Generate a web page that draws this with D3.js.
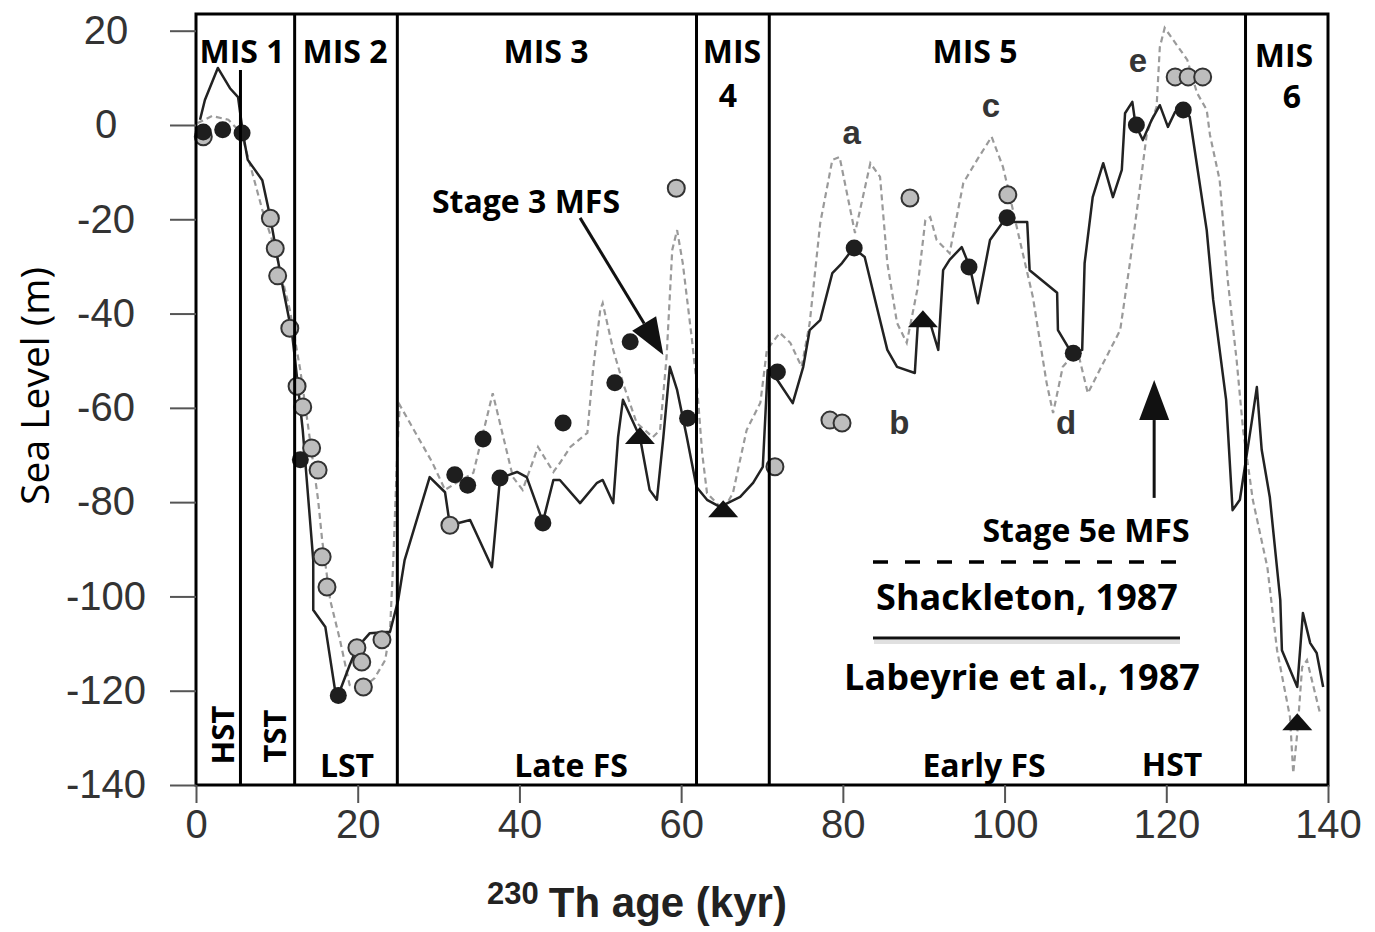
<!DOCTYPE html>
<html>
<head>
<meta charset="utf-8">
<script src="https://cdn.jsdelivr.net/npm/d3@7"></script>
<style>
  body { margin: 0; background: #fff; }
  .lbl { font-family: "Open Sans", sans-serif; font-weight: 700; fill: #000; }
  .tick text { font-family: "Liberation Sans", Arial, sans-serif; font-size: 40px; fill: #333; }
</style>
</head>
<body>
<div id="chart"></div>
<script>
// Labeyrie et al., 1987 (solid) : [age kyr, sea level m]
var labeyrie = [
  [0.5, 1.1], [1.1, 5.3], [2.7, 12.1], [4.2, 7.8], [5.2, 5.9], [5.8, -1.7], [6.4, -7.4],
  [8.2, -11.7], [9.2, -19.7], [9.9, -26.5], [10.8, -35.0], [11.9, -44.5], [12.6, -55.2],
  [13.2, -64.7], [13.7, -75.3], [14.5, -92.3], [14.5, -102.9], [16.0, -106.5], [17.2, -119.9],
  [17.6, -120.9], [19.0, -114.6], [19.9, -110.9], [21.5, -107.8], [24.0, -107.5], [25.0, -100.8],
  [25.8, -92.3], [28.9, -74.7], [30.8, -77.9], [31.4, -84.9], [33.9, -83.8], [36.6, -93.8],
  [37.6, -74.9], [39.7, -73.6], [40.9, -74.7], [42.9, -84.2], [44.2, -75.3], [45.0, -75.3],
  [47.5, -80.2], [49.6, -75.9], [50.3, -75.3], [51.6, -80.2], [52.2, -66.2], [52.8, -58.3],
  [54.9, -66.2], [56.1, -77.4], [57.0, -79.5], [57.8, -66.2], [58.6, -51.3], [59.5, -56.2],
  [60.7, -66.2], [61.9, -76.8], [63.2, -79.5], [64.8, -81.0], [67.3, -78.9], [68.9, -75.9],
  [70.1, -72.5], [70.7, -52.0], [71.9, -54.1], [73.8, -59.0], [75.1, -51.3], [75.9, -43.5],
  [77.2, -41.4], [78.7, -31.4], [79.9, -29.3], [81.3, -26.1], [82.7, -28.0], [84.2, -38.6],
  [85.5, -47.7], [86.7, -51.3], [88.9, -52.6], [89.3, -41.4], [90.8, -42.0], [91.8, -47.7],
  [92.4, -30.8], [93.2, -28.6], [94.7, -25.9], [95.7, -30.1], [96.7, -37.8], [98.2, -24.4],
  [99.8, -20.6], [102.8, -20.6], [103.1, -30.8], [106.5, -35.6], [106.6, -43.5], [108.3, -48.4],
  [109.6, -47.7], [109.9, -29.3], [110.9, -15.3], [112.2, -8.1], [113.4, -15.3], [114.5, -9.5],
  [114.9, 2.5], [115.8, 4.9], [116.2, 0], [117.1, -3.2], [118.2, 1.1], [119.2, 4.2],
  [120.2, -0.4], [121.1, 2.8], [122.1, 3.6], [122.9, 1.7], [125.0, -22.3], [125.8, -37.1],
  [127.4, -58.3], [128.2, -81.7], [129.1, -79.5], [130.6, -62.6], [131.2, -55.6], [131.8, -68.9],
  [132.8, -78.9], [134.1, -100.8], [134.3, -111.4], [136.2, -119.2], [136.9, -103.5],
  [137.8, -109.9], [138.6, -112.0], [139.4, -119.2]
];

// Shackleton, 1987 (dashed)
var shackleton = [
  [0.2, 0.4], [2.0, 1.9], [4.0, 1.1], [5.6, -1.7], [6.7, -8.5], [8.2, -18.0], [9.8, -26.5],
  [11.6, -39.2], [12.9, -52.0], [14.1, -66.8], [15.1, -79.5], [15.6, -88.0], [16.6, -100.8],
  [17.8, -109.2], [19.0, -118.8], [20.3, -119.9], [22.1, -117.3], [23.4, -113.5], [24.0, -107.1],
  [24.4, -92.3], [24.9, -68.9], [25.2, -59.4], [29.2, -71.5], [30.8, -77.4], [32.4, -75.7],
  [34.3, -73.8], [36.7, -56.9], [39.2, -74.7], [40.4, -77.4], [42.3, -68.3], [44.2, -73.6],
  [45.0, -71.7], [46.3, -68.3], [48.4, -65.3], [49.1, -52.0], [50.0, -39.2], [50.3, -37.8],
  [51.6, -47.7], [52.8, -54.7], [54.5, -63.2], [56.5, -66.2], [57.4, -64.7], [58.2, -49.2],
  [58.9, -26.5], [59.5, -22.3], [60.2, -29.3], [61.3, -45.0], [62.0, -56.2], [62.6, -69.6],
  [63.2, -78.1], [64.4, -80.2], [65.2, -81.7], [66.4, -78.1], [68.1, -64.7], [69.8, -58.9],
  [70.6, -47.7], [72.2, -44.1], [73.5, -46.2], [74.9, -51.3], [75.9, -42.0], [77.2, -20.8],
  [78.7, -7.4], [79.6, -6.8], [81.5, -22.9], [83.4, -8.1], [84.6, -11.0], [85.5, -29.3],
  [86.7, -42.0], [87.9, -46.2], [89.2, -35.0], [90.2, -20.2], [90.8, -19.5], [91.6, -24.4],
  [93.2, -27.2], [94.9, -12.3], [96.6, -7.4], [98.4, -2.5], [99.8, -8.9], [100.4, -13.2],
  [101.5, -21.6], [103.5, -36.5], [105.2, -54.7], [106.0, -61.1], [107.2, -51.3], [109.0, -47.7],
  [110.3, -56.9], [112.2, -50.5], [114.3, -43.5], [115.5, -29.3], [116.7, -13.8], [117.6, -1.7],
  [118.8, 3.8], [119.2, 16.5], [119.8, 20.6], [122.6, 13.8], [123.8, 6.8], [125.0, 3.2],
  [125.4, -2.1], [126.6, -11.7], [127.6, -32.9], [128.7, -49.9], [129.5, -64.7], [130.7, -79.5],
  [132.5, -93.8], [133.7, -111.4], [135.3, -125.6], [135.7, -137.5], [136.2, -129.0],
  [136.8, -115.0], [137.4, -113.5], [138.1, -118.4], [139.0, -124.7]
];

var blackDots = [
  [0.9, -1.5], [3.3, -1.0], [5.7, -1.7], [12.9, -71.0], [17.6, -121.0], [32.0, -74.2],
  [33.6, -76.4], [35.5, -66.6], [37.6, -74.9], [42.9, -84.4], [45.4, -63.2], [51.8, -54.7],
  [53.7, -46.0], [60.8, -62.2], [71.9, -52.4], [81.4, -26.1], [95.6, -30.1], [100.3, -19.7],
  [108.5, -48.4], [116.3, 0], [122.1, 3.2]
];

var greyDots = [
  [0.9, -2.5], [9.2, -19.8], [9.8, -26.2], [10.1, -32.0], [11.6, -43.1], [12.5, -55.4],
  [13.2, -59.8], [14.3, -68.5], [15.1, -73.2], [15.6, -91.6], [16.2, -98.0], [19.9, -110.9],
  [20.5, -113.9], [20.7, -119.2], [23.0, -109.2], [31.4, -84.9], [59.4, -13.4], [71.6, -72.5],
  [78.4, -62.6], [79.9, -63.2], [88.3, -15.5], [100.4, -14.8], [121.1, 10.2], [122.7, 10.2],
  [124.5, 10.2]
];

var triangles = [[54.9, -66.2], [65.2, -81.7], [89.9, -41.4], [136.2, -126.9]];

var misBounds = [5.5, 12.2, 24.9, 61.9, 70.9, 129.8];
var xTicks = [0, 20, 40, 60, 80, 100, 120, 140];
var yTicks = [20, 0, -20, -40, -60, -80, -100, -120, -140];

var peakLetters = [
  {t: "a", age: 81.1, lev: -4.0}, {t: "b", age: 87.0, lev: -65.5},
  {t: "c", age: 98.3, lev: 1.7}, {t: "d", age: 107.6, lev: -65.5},
  {t: "e", age: 116.5, lev: 11.3}
];

var width = 1375, height = 932;
var margin = {top: 14, right: 47, bottom: 147, left: 196};

var svg = d3.select("#chart")
  .append("svg")
  .attr("width", width)
  .attr("height", height);

var xScale = d3.scaleLinear()
  .domain([0, 140])
  .range([margin.left, width - margin.right]);

var yScale = d3.scaleLinear()
  .domain([-140, 20])
  .range([height - margin.bottom, 30.7]);

var line = d3.line()
  .x(d => xScale(d[0]))
  .y(d => yScale(d[1]));

// curves
svg.append("path")
  .datum(shackleton)
  .attr("d", line)
  .attr("fill", "none")
  .attr("stroke", "#9a9a9a")
  .attr("stroke-width", 2.2)
  .attr("stroke-dasharray", "6,4");

svg.append("path")
  .datum(labeyrie)
  .attr("d", line)
  .attr("fill", "none")
  .attr("stroke", "#222")
  .attr("stroke-width", 2.5)
  .attr("stroke-linejoin", "round");

// points
svg.selectAll(".grey-dot")
  .data(greyDots)
  .enter()
  .append("circle")
  .attr("class", "grey-dot")
  .attr("cx", d => xScale(d[0]))
  .attr("cy", d => yScale(d[1]))
  .attr("r", 8.5)
  .style("fill", "#bdbdbd")
  .style("stroke", "#333")
  .style("stroke-width", 2);

svg.selectAll(".black-dot")
  .data(blackDots)
  .enter()
  .append("circle")
  .attr("class", "black-dot")
  .attr("cx", d => xScale(d[0]))
  .attr("cy", d => yScale(d[1]))
  .attr("r", 8.5)
  .style("fill", "#1e1e1e");

svg.selectAll(".tri")
  .data(triangles)
  .enter()
  .append("path")
  .attr("class", "tri")
  .attr("d", "M0,-10L15,7L-15,7Z")
  .attr("transform", d => `translate(${xScale(d[0])},${yScale(d[1])})`)
  .style("fill", "#111");

// MIS boundaries
var hstTop = 70;
svg.selectAll(".mis-line")
  .data(misBounds)
  .enter()
  .append("line")
  .attr("class", "mis-line")
  .attr("x1", d => xScale(d))
  .attr("x2", d => xScale(d))
  .attr("y1", (d, i) => i == 0 ? hstTop : margin.top)
  .attr("y2", height - margin.bottom)
  .style("stroke", "#000")
  .style("stroke-width", 3);

// frame
svg.append("rect")
  .attr("x", margin.left)
  .attr("y", margin.top)
  .attr("width", width - margin.left - margin.right)
  .attr("height", height - margin.top - margin.bottom)
  .attr("fill", "none")
  .attr("stroke", "#000")
  .attr("stroke-width", 3);

// axes
var yAxis = d3.axisLeft(yScale)
  .tickValues(yTicks)
  .tickSize(26)
  .tickFormat(d => d);

svg.append("g")
  .attr("transform", `translate(${margin.left},0)`)
  .call(yAxis)
  .call(g => g.select(".domain").remove())
  .call(g => g.selectAll(".tick line").style("stroke", "#555").style("stroke-width", 2))
  .selectAll("text")
  .attr("x", -90)
  .style("text-anchor", "middle");

var xAxis = d3.axisBottom(xScale)
  .tickValues(xTicks)
  .tickSize(18)
  .tickPadding(7)
  .tickFormat(d => d);

svg.append("g")
  .attr("transform", `translate(0,${height - margin.bottom})`)
  .call(xAxis)
  .call(g => g.select(".domain").remove())
  .call(g => g.selectAll(".tick line").style("stroke", "#555").style("stroke-width", 2));

// axis titles
svg.append("text")
  .attr("transform", "translate(49,386) rotate(-90)")
  .style("text-anchor", "middle")
  .style("font-family", "'Open Sans', sans-serif")
  .style("font-size", "39px")
  .text("Sea Level (m)");

var xt = svg.append("text")
  .attr("x", 637)
  .attr("y", 917)
  .style("text-anchor", "middle")
  .style("font-family", "'Liberation Sans', Arial, sans-serif")
  .style("font-weight", 700)
  .style("fill", "#222");
xt.append("tspan").style("font-size", "31px").attr("dy", -13).text("230");
xt.append("tspan").style("font-size", "42px").attr("dy", 13).attr("dx", 10).text("Th age (kyr)");

// MIS labels
var misLabels = [
  ["MIS 1", 242, 63], ["MIS 2", 345, 63], ["MIS 3", 546, 63], ["MIS", 732, 63], ["4", 728, 107],
  ["MIS 5", 975, 63], ["MIS", 1284, 67], ["6", 1292, 108],
  ["LST", 347, 777], ["Late FS", 571, 777], ["Early FS", 984, 777], ["HST", 1172, 776],
  ["Stage 3 MFS", 526, 213], ["Stage 5e MFS", 1086, 542]
];
svg.selectAll(".mis-lbl")
  .data(misLabels)
  .enter()
  .append("text")
  .attr("class", "lbl mis-lbl")
  .attr("x", d => d[1])
  .attr("y", d => d[2])
  .style("text-anchor", "middle")
  .style("font-size", "32px")
  .text(d => d[0]);

svg.append("text")
  .attr("class", "lbl")
  .attr("transform", "translate(234,735) rotate(-90)")
  .style("text-anchor", "middle")
  .style("font-size", "31px")
  .text("HST");

svg.append("text")
  .attr("class", "lbl")
  .attr("transform", "translate(286,736) rotate(-90)")
  .style("text-anchor", "middle")
  .style("font-size", "31px")
  .text("TST");

// peak letters a-e
svg.selectAll(".peak")
  .data(peakLetters)
  .enter()
  .append("text")
  .attr("class", "peak")
  .attr("x", d => xScale(d.age))
  .attr("y", d => yScale(d.lev))
  .style("text-anchor", "middle")
  .style("font-family", "'Liberation Sans', Arial, sans-serif")
  .style("font-weight", 700)
  .style("font-size", "33px")
  .style("fill", "#353535")
  .text(d => d.t);

// arrows
function arrow(x1, y1, x2, y2, len, half) {
  var dx = x2 - x1, dy = y2 - y1, L = Math.sqrt(dx * dx + dy * dy);
  var ux = dx / L, uy = dy / L;
  var bx = x2 - ux * len, by = y2 - uy * len;
  svg.append("line")
    .attr("x1", x1).attr("y1", y1).attr("x2", bx).attr("y2", by)
    .style("stroke", "#111").style("stroke-width", 3);
  svg.append("path")
    .attr("d", `M${x2},${y2}L${bx - uy * half},${by + ux * half}L${bx + uy * half},${by - ux * half}Z`)
    .style("fill", "#111");
}
arrow(xScale(47.5), yScale(-19.7), xScale(57.8), yScale(-48.8), 37, 14);
arrow(xScale(118.5), yScale(-79.1), xScale(118.5), yScale(-54.1), 40, 15);

// legend
svg.append("line")
  .attr("x1", 873).attr("x2", 1178).attr("y1", 562).attr("y2", 562)
  .style("stroke", "#000").style("stroke-width", 3.5)
  .style("stroke-dasharray", "15,17");

svg.append("text")
  .attr("class", "lbl")
  .attr("x", 1027).attr("y", 610)
  .style("text-anchor", "middle")
  .style("font-size", "36px")
  .text("Shackleton, 1987");

svg.append("line")
  .attr("x1", 874).attr("x2", 1180).attr("y1", 642).attr("y2", 642)
  .style("stroke", "#ccc").style("stroke-width", 4).style("opacity", 0.6);
svg.append("line")
  .attr("x1", 873).attr("x2", 1180).attr("y1", 638).attr("y2", 638)
  .style("stroke", "#111").style("stroke-width", 3);

svg.append("text")
  .attr("class", "lbl")
  .attr("x", 1022).attr("y", 690)
  .style("text-anchor", "middle")
  .style("font-size", "36px")
  .text("Labeyrie et al., 1987");
</script>
</body>
</html>
